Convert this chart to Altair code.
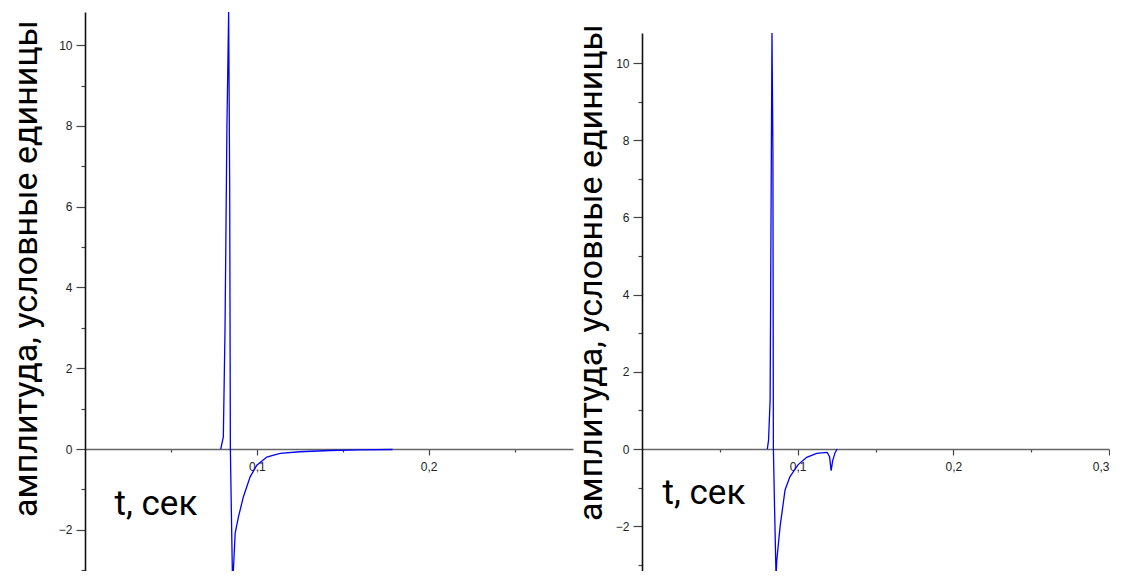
import altair as alt
import pandas as pd

# ---- data ----
t_left = [0.0790, 0.0805, 0.0815, 0.0826, 0.0836, 0.0842, 0.0846, 0.0852, 0.0859,
          0.0874, 0.0893, 0.0922, 0.0961, 0.1000, 0.1058, 0.1135, 0.1250, 0.1425,
          0.1600, 0.1790]
v_left = [0.0, 0.3, 3.0, 8.0, 10.82, 6.5, 0.0, -1.6, -3.4,
          -2.08, -1.68, -1.18, -0.69, -0.40, -0.20, -0.107, -0.067, -0.037,
          -0.02, -0.012]

t_right = [0.0805, 0.0813, 0.0823, 0.0831, 0.0835, 0.0841, 0.0844, 0.0852, 0.0861,
           0.0866, 0.0887, 0.0919, 0.0950, 0.1002, 0.1058, 0.1122, 0.1186, 0.1190,
           0.1205, 0.1215, 0.1225, 0.1240, 0.1253]
v_right = [0.0, 0.23, 1.27, 7.7, 10.78, 7.7, 0.0, -1.6, -3.3,
           -2.88, -2.01, -1.06, -0.72, -0.41, -0.215, -0.11, -0.085, -0.09,
           -0.2, -0.56, -0.3, -0.1, 0.0]

y_ticks = list(range(-3, 11))
x_ticks_left = [0.05, 0.1, 0.15, 0.2, 0.25]
x_ticks_right = [0.05, 0.1, 0.15, 0.2, 0.25, 0.3]

y_title = "амплитуда, условные единицы"
x_title = "t, сек"

TITLE_FONT = "Roboto"
LABEL_FONT = "Liberation Sans"

def panel(t, v, xmax, xticks, ydom, yrange, width, height,
          ytx, yty, xtx, xty):
    df = pd.DataFrame({"t": t, "v": v})
    major_x = "abs(datum.value*10 - round(datum.value*10)) < 0.001"
    x_axis = alt.Axis(
        values=xticks,
        orient="bottom",
        offset=-122,
        grid=False,
        domainColor="#666666",
        domainWidth=1.6,
        tickColor="#444444",
        tickWidth=1.2,
        tickSize={"condition": {"test": "!(" + major_x + ")", "value": 3}, "value": 6},
        labelExpr=f"{major_x} ? replace(format(datum.value, '.1f'), '.', ',') : ''",
        labelFont=LABEL_FONT,
        labelFontSize=12,
        labelColor="#222222",
        labelPadding=6,
        title=x_title,
        titleFont=TITLE_FONT,
        titleFontSize=35,
        titleFontWeight="normal",
        titleColor="#000000",
        titleX=xtx,
        titleY=xty,
        titleAlign="left",
        titleBaseline="alphabetic",
        titleAngle=0,
    )
    y_axis = alt.Axis(
        values=y_ticks,
        grid=False,
        domainColor="#111111",
        domainWidth=1.6,
        tickColor="#444444",
        tickWidth=1.2,
        tickSize={"condition": {"test": "datum.value % 2 != 0", "value": 4}, "value": 9},
        labelExpr="datum.value % 2 == 0 ? format(datum.value, 'd') : ''",
        labelFont=LABEL_FONT,
        labelFontSize=12,
        labelColor="#222222",
        labelPadding=4,
        title=y_title,
        titleFont=TITLE_FONT,
        titleFontSize=34,
        titleFontWeight="normal",
        titleColor="#000000",
        titleAngle=-90,
        titleX=ytx,
        titleY=yty,
        titleAlign="center",
        titleBaseline="alphabetic",
    )
    return alt.Chart(df).mark_line(color="#0000ff", strokeWidth=1.3, clip=True).encode(
        x=alt.X("t:Q", scale=alt.Scale(domain=[0, xmax], nice=False, zero=False), axis=x_axis),
        y=alt.Y("v:Q", scale=alt.Scale(domain=ydom, range=yrange, nice=False, zero=False), axis=y_axis),
        order=alt.Order("t:Q"),
    ).properties(width=width, height=height)

left = panel(t_left, v_left, 0.284, x_ticks_left, [-3.02, 10.82], [559, 0], 488, 559,
             -49, 256, 29, 65)
right = panel(t_right, v_right, 0.3, x_ticks_right, [-3.16, 10.78], [559, 21], 467, 559,
              -41, 260, 20, 54)

chart = alt.hconcat(left, right, spacing=69, bounds="flush").properties(
    padding={"left": 0, "top": 4, "right": 0, "bottom": 0}
).configure_view(stroke=None)

chart.save("out.html", embed_options={"renderer": "svg", "actions": False})
